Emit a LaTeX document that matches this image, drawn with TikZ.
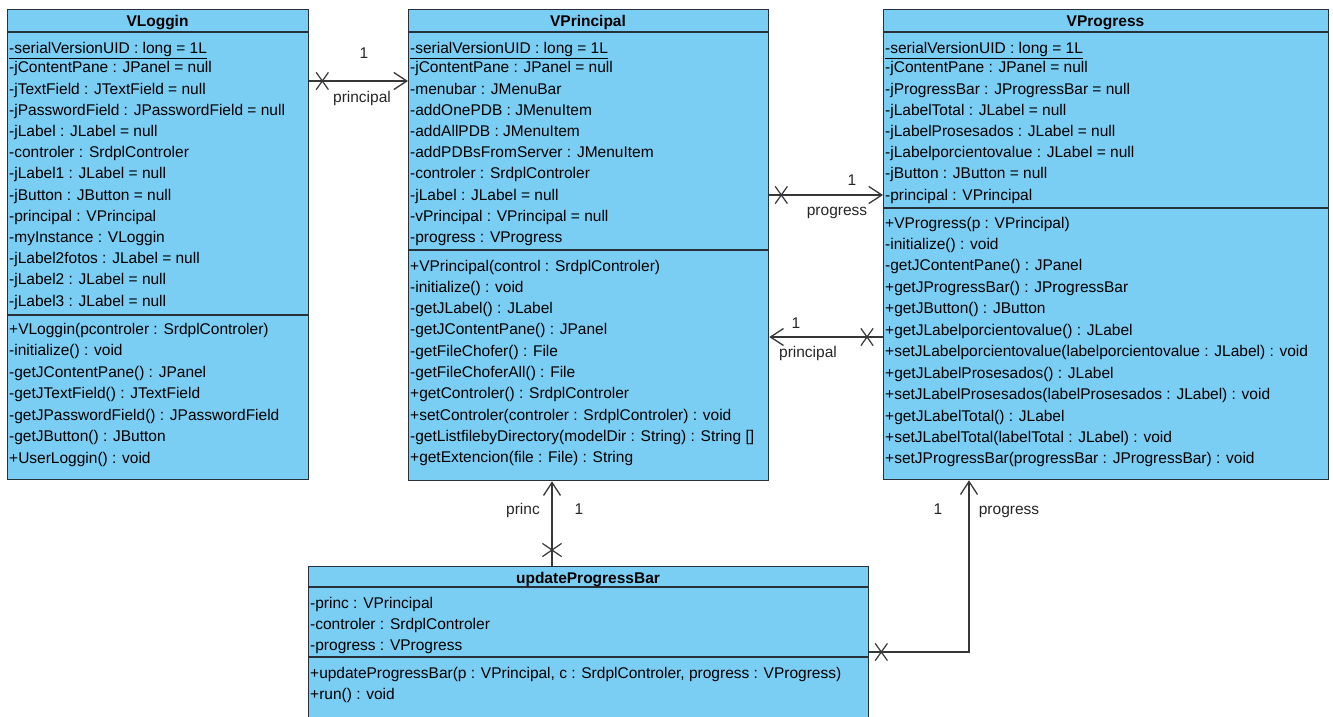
\documentclass[tikz,border=0pt]{standalone}
\usepackage{fontspec}
\setmainfont{Liberation Sans}
\usetikzlibrary{arrows.meta,shapes.misc}
\definecolor{clsfill}{RGB}{122,205,243}
\definecolor{clsline}{RGB}{40,48,58}
\definecolor{conline}{RGB}{55,55,55}
\newcommand\umlrow{\fontsize{15.5}{18}\selectfont}
\newcommand\umltitle{\fontsize{15.5}{18}\selectfont\bfseries}
\begin{document}
\begin{tikzpicture}[x=1pt,y=-1pt,
  classbox/.style={draw=clsline, fill=clsfill, line width=1.3pt, inner sep=0pt, anchor=north west},
  sepline/.style={draw=clsline, line width=1.1pt},
  row/.style={anchor=base west, inner sep=0pt, font=\umlrow, text=black},
  ttl/.style={anchor=base, inner sep=0pt, font=\umltitle, text=black},
  lbl/.style={anchor=base, inner sep=0pt, font=\umlrow, text=black!85},
  conn/.style={draw=conline, line width=1.3pt},
  nav/.style={-{Straight Barb[length=13pt,width=17pt,line width=1.3pt]}},
  xmk/.style={cross out, draw=conline, line width=1.2pt, minimum width=11pt, minimum height=16pt, inner sep=0pt},
  xmkv/.style={cross out, draw=conline, line width=1.2pt, minimum width=18pt, minimum height=12pt, inner sep=0pt}
]
\useasboundingbox (0,0) rectangle (1333,717);
\fill[white] (0,0) rectangle (1333,717);

% ---------- class boxes ----------
\node[classbox, minimum width=301pt, minimum height=470pt] (vl) at (7,9) {};
\node[classbox, minimum width=360pt, minimum height=471pt] (vp) at (408,9) {};
\node[classbox, minimum width=445pt, minimum height=470pt] (vpr) at (883,9) {};
\node[classbox, minimum width=560pt, minimum height=170pt] (upb) at (308,566) {};

% separators
\draw[sepline] ([yshift=-23pt]vl.north west) -- ([yshift=-23pt]vl.north east);
\draw[sepline] ([yshift=-306pt]vl.north west) -- ([yshift=-306pt]vl.north east);
\draw[sepline] ([yshift=-23pt]vp.north west) -- ([yshift=-23pt]vp.north east);
\draw[sepline] ([yshift=-241pt]vp.north west) -- ([yshift=-241pt]vp.north east);
\draw[sepline] ([yshift=-23pt]vpr.north west) -- ([yshift=-23pt]vpr.north east);
\draw[sepline] ([yshift=-199pt]vpr.north west) -- ([yshift=-199pt]vpr.north east);
\draw[sepline] ([yshift=-21pt]upb.north west) -- ([yshift=-21pt]upb.north east);
\draw[sepline] ([yshift=-91pt]upb.north west) -- ([yshift=-91pt]upb.north east);

% ---------- titles ----------
\node[ttl] (vl-t) at (157.5,26.5) {VLoggin};
\node[ttl] (vp-t) at (588,26.5) {VPrincipal};
\node[ttl] (vpr-t) at (1105.5,26.5) {VProgress};
\node[ttl] (upb-t) at (588,583) {updateProgressBar};

% ---------- VLoggin ----------
\node[row] (vl-s) at (9,54) {\underline{-serialVersionUID : long = 1L}};
\foreach \rowtext [count=\k from 0] in {
  {-jContentPane : JPanel = null},
  {-jTextField : JTextField = null},
  {-jPasswordField : JPasswordField = null},
  {-jLabel : JLabel = null},
  {-controler : SrdplControler},
  {-jLabel1 : JLabel = null},
  {-jButton : JButton = null},
  {-principal : VPrincipal},
  {-myInstance : VLoggin},
  {-jLabel2fotos : JLabel = null},
  {-jLabel2 : JLabel = null},
  {-jLabel3 : JLabel = null}}
  \node[row] (vl-a\k) at (9,{72.8+21.2*\k}) {\rowtext};
\foreach \rowtext [count=\k from 0] in {
  {+VLoggin(pcontroler : SrdplControler)},
  {-initialize() : void},
  {-getJContentPane() : JPanel},
  {-getJTextField() : JTextField},
  {-getJPasswordField() : JPasswordField},
  {-getJButton() : JButton},
  {+UserLoggin() : void}}
  \node[row] (vl-m\k) at (9,{334+21.5*\k}) {\rowtext};

% ---------- VPrincipal ----------
\node[row] (vp-s) at (410,54) {\underline{-serialVersionUID : long = 1L}};
\foreach \rowtext [count=\k from 0] in {
  {-jContentPane : JPanel = null},
  {-menubar : JMenuBar},
  {-addOnePDB : JMenuItem},
  {-addAllPDB : JMenuItem},
  {-addPDBsFromServer : JMenuItem},
  {-controler : SrdplControler},
  {-jLabel : JLabel = null},
  {-vPrincipal : VPrincipal = null},
  {-progress : VProgress}}
  \node[row] (vp-a\k) at (410,{72.8+21.2*\k}) {\rowtext};
\foreach \rowtext [count=\k from 0] in {
  {+VPrincipal(control : SrdplControler)},
  {-initialize() : void},
  {-getJLabel() : JLabel},
  {-getJContentPane() : JPanel},
  {-getFileChofer() : File},
  {-getFileChoferAll() : File},
  {+getControler() : SrdplControler},
  {+setControler(controler : SrdplControler) : void},
  {-getListfilebyDirectory(modelDir : String) : String []},
  {+getExtencion(file : File) : String}}
  \node[row] (vp-m\k) at (410,{271+21.3*\k}) {\rowtext};

% ---------- VProgress ----------
\node[row] (vpr-s) at (885,54) {\underline{-serialVersionUID : long = 1L}};
\foreach \rowtext [count=\k from 0] in {
  {-jContentPane : JPanel = null},
  {-jProgressBar : JProgressBar = null},
  {-jLabelTotal : JLabel = null},
  {-jLabelProsesados : JLabel = null},
  {-jLabelporcientovalue : JLabel = null},
  {-jButton : JButton = null},
  {-principal : VPrincipal}}
  \node[row] (vpr-a\k) at (885,{72.8+21.2*\k}) {\rowtext};
\foreach \rowtext [count=\k from 0] in {
  {+VProgress(p : VPrincipal)},
  {-initialize() : void},
  {-getJContentPane() : JPanel},
  {+getJProgressBar() : JProgressBar},
  {+getJButton() : JButton},
  {+getJLabelporcientovalue() : JLabel},
  {+setJLabelporcientovalue(labelporcientovalue : JLabel) : void},
  {+getJLabelProsesados() : JLabel},
  {+setJLabelProsesados(labelProsesados : JLabel) : void},
  {+getJLabelTotal() : JLabel},
  {+setJLabelTotal(labelTotal : JLabel) : void},
  {+setJProgressBar(progressBar : JProgressBar) : void}}
  \node[row] (vpr-m\k) at (885,{228+21.45*\k}) {\rowtext};

% ---------- updateProgressBar ----------
\foreach \rowtext [count=\k from 0] in {
  {-princ : VPrincipal},
  {-controler : SrdplControler},
  {-progress : VProgress}}
  \node[row] (upb-a\k) at (310,{608+21*\k}) {\rowtext};
\foreach \rowtext [count=\k from 0] in {
  {+updateProgressBar(p : VPrincipal, c : SrdplControler, progress : VProgress)},
  {+run() : void}}
  \node[row] (upb-m\k) at (310,{678+21*\k}) {\rowtext};

% ---------- connectors ----------
% VLoggin -> VPrincipal
\draw[conn, nav] ([yshift=-72pt]vl.north east) -- ([yshift=-72pt]vp.north west);
\node[xmk] (x1) at ([xshift=13pt,yshift=-72pt]vl.north east) {};
\node[lbl] (c1m) at (364,58.5) {1};
\node[lbl] (c1r) at (362,102) {principal};

% VPrincipal -> VProgress
\draw[conn, nav] ([yshift=-186pt]vp.north east) -- ([yshift=-186pt]vpr.north west);
\node[xmk] (x2) at ([xshift=12pt,yshift=-186pt]vp.north east) {};
\node[lbl] (c2m) at (852,185.5) {1};
\node[lbl] (c2r) at (837,215) {progress};

% VProgress -> VPrincipal
\draw[conn, nav] ([yshift=-328pt]vpr.north west) -- ([yshift=-328pt]vp.north east);
\node[xmk] (x3) at ([xshift=-16pt,yshift=-328pt]vpr.north west) {};
\node[lbl] (c3m) at (796,328.5) {1};
\node[lbl] (c3r) at (808,357) {principal};

% updateProgressBar -> VPrincipal
\draw[conn, nav] ([xshift=244pt]upb.north west) -- ([xshift=144pt]vp.south west);
\node[xmkv] (x4) at ([xshift=244pt,yshift=16pt]upb.north west) {};
\node[lbl] (c4r) at (523,514.5) {princ};
\node[lbl] (c4m) at (579,514.5) {1};

% updateProgressBar -> VProgress
\draw[conn, nav] ([yshift=-86pt]upb.north east) -| ([xshift=86pt]vpr.south west);
\node[xmk] (x5) at ([xshift=12pt,yshift=-86pt]upb.north east) {};
\node[lbl] (c5m) at (938,514.5) {1};
\node[lbl] (c5r) at (1009,514.5) {progress};
\end{tikzpicture}
\end{document}
